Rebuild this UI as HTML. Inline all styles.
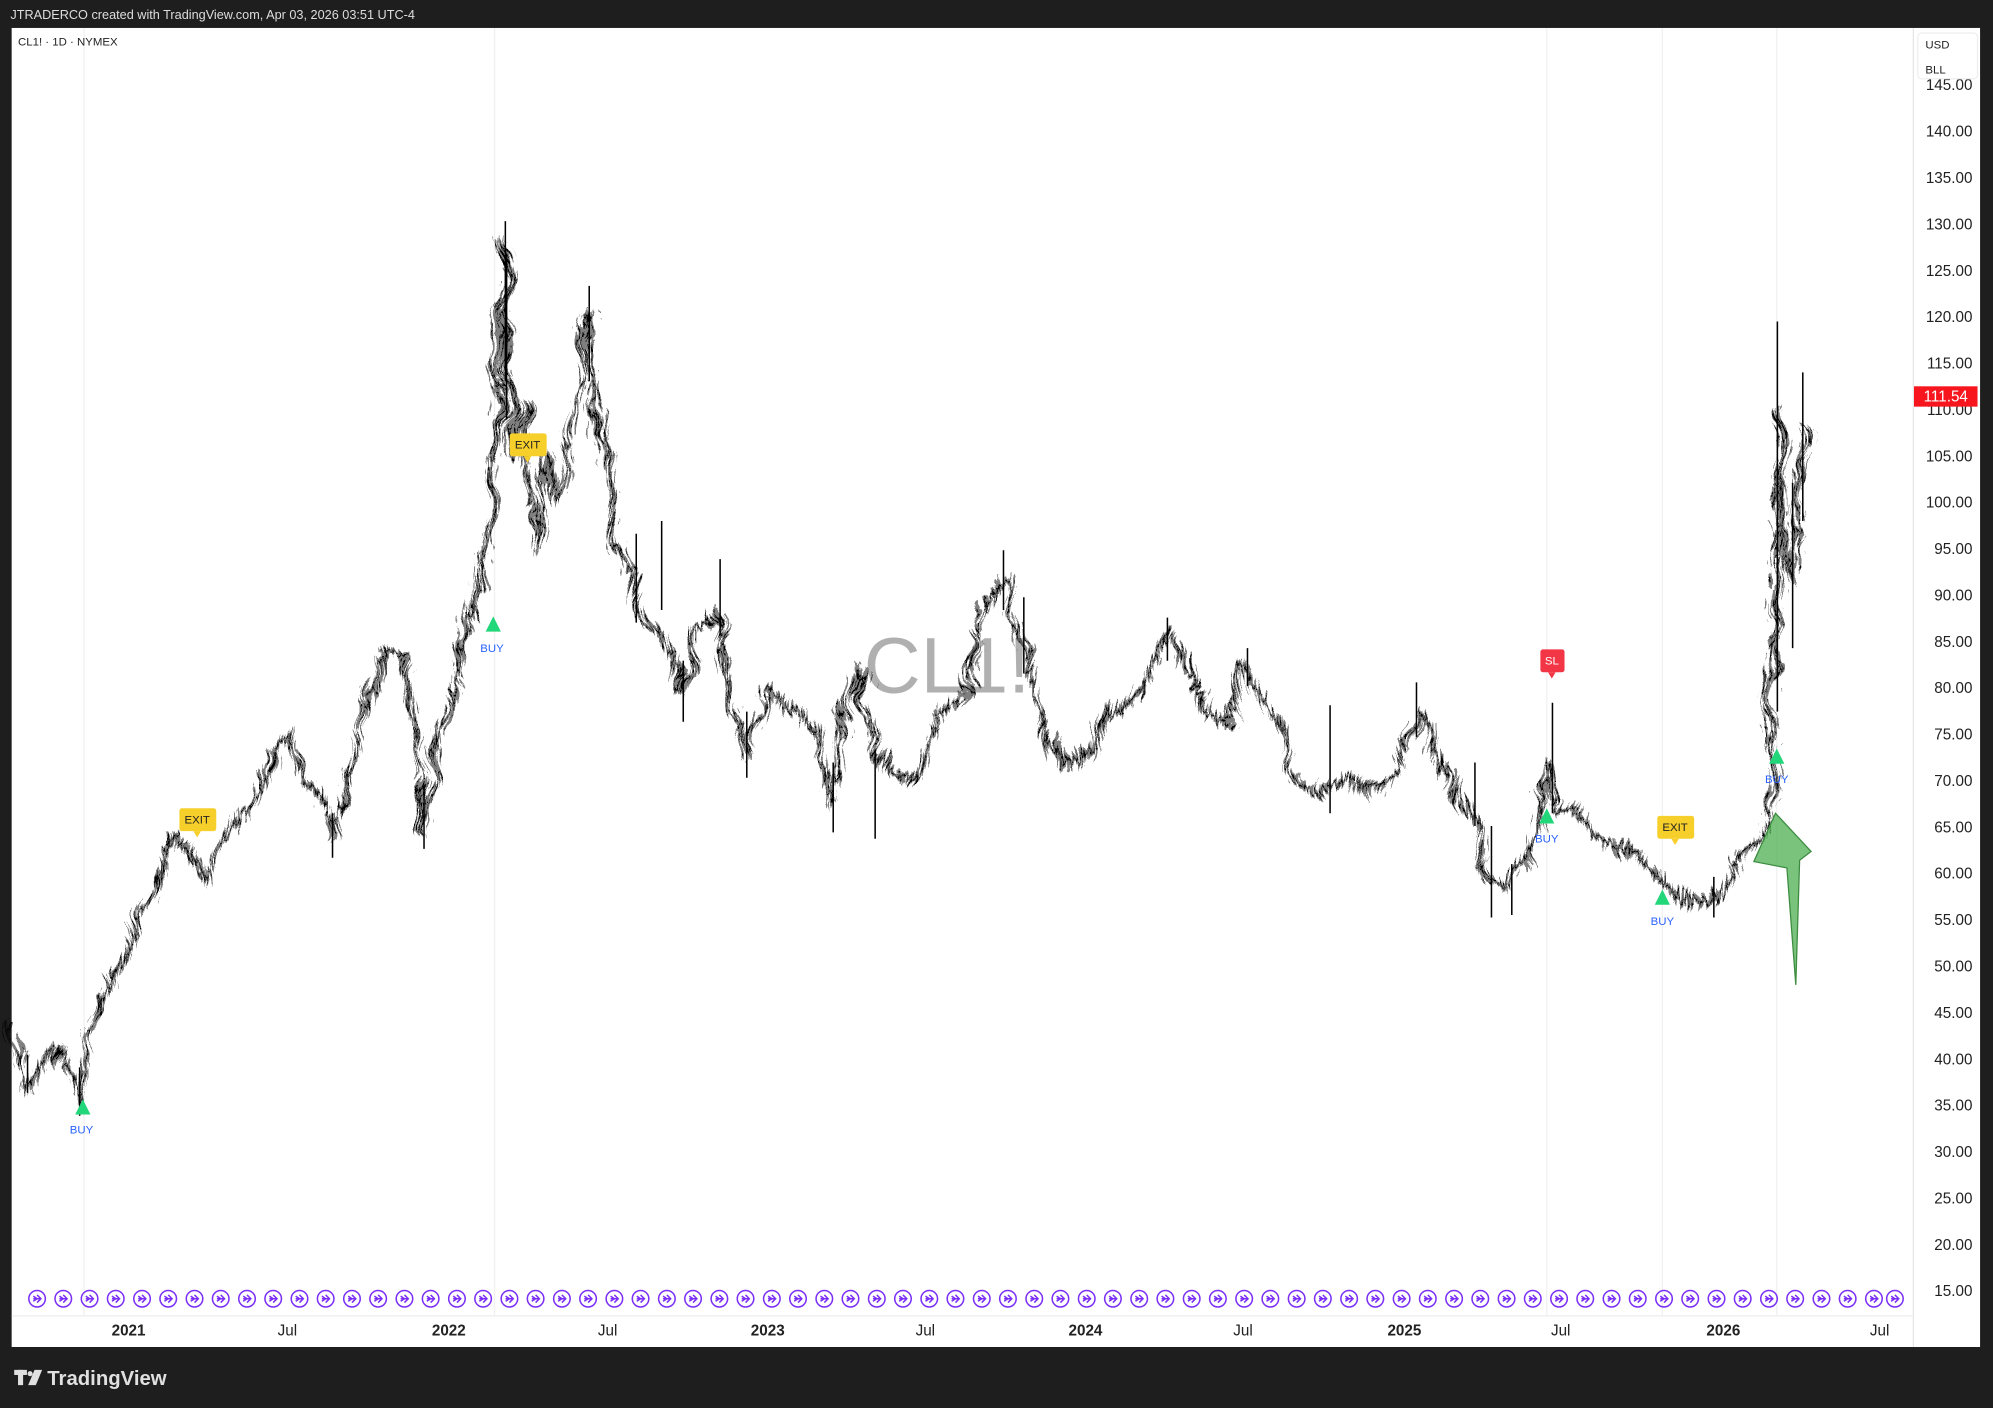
<!DOCTYPE html>
<html><head><meta charset="utf-8"><style>
html,body{margin:0;padding:0;background:#1e1e1e;}
svg{display:block}
text{font-family:"Liberation Sans",sans-serif}
</style></head><body>
<svg width="1993" height="1408" viewBox="0 0 1568 1108" xmlns="http://www.w3.org/2000/svg">
<defs>
<g id="ic"><circle cx="0" cy="0" r="6.5" fill="none" stroke="#7b2ff7" stroke-width="1.2"/><path d="M-3 -2 l3 2 l-3 2 M0 -3 l3 3 l-3 3 M-3 0 h6" fill="none" stroke="#7b2ff7" stroke-width="1.2"/></g>
<filter id="jit" x="-5%" y="-5%" width="110%" height="110%"><feTurbulence type="fractalNoise" baseFrequency="0.5 0.06" numOctaves="3" seed="3"/><feDisplacementMap in="SourceGraphic" scale="16" xChannelSelector="R" yChannelSelector="G"/></filter>
<filter id="jit2" x="-5%" y="-5%" width="110%" height="110%"><feTurbulence type="fractalNoise" baseFrequency="0.03 0.03" numOctaves="2" seed="7"/><feDisplacementMap in="SourceGraphic" scale="22" xChannelSelector="R" yChannelSelector="G"/></filter>
<polyline id="pl" points="9,804 22,855 40,826 55,848 62,870 70,819 80,782 100,746 120,702 135,658 150,666 160,695 175,666 200,629 215,593 228,578 240,615 250,629 262,658 275,615 290,556 305,512 318,520 325,571 333,651 345,585 360,527 375,469 385,439 392,323 398,191 402,359 410,323 420,432 430,359 440,396 455,308 463,250 470,337 480,396 495,454 510,490 525,512 537,542 550,498 565,483 578,556 590,593 605,542 620,556 640,571 655,636 665,556 675,527 688,600 700,600 715,615 725,600 740,563 760,542 775,469 790,454 800,498 810,527 825,578 840,607 855,593 870,563 890,549 905,534 920,498 935,527 950,556 965,571 980,520 995,549 1010,578 1025,615 1040,622 1060,615 1080,629 1100,607 1115,556 1130,593 1145,629 1160,651 1172,688 1185,702 1200,680 1210,658 1218,600 1225,644 1240,636 1255,658 1270,666 1290,673 1305,688 1320,702 1340,709 1355,702 1370,673 1385,658 1393,629 1398,469 1400,323 1404,432 1410,454 1415,396 1418,337"/>
</defs>
<rect width="1568" height="1108" fill="#1e1e1e"/>
<text x="8" y="15" font-size="10" fill="#dddddd">JTRADERCO created with TradingView.com, Apr 03, 2026 03:51 UTC-4</text>
<rect x="9" y="22" width="1549" height="1038" fill="#fff"/>
<line x1="1505.5" y1="22" x2="1505.5" y2="1060" stroke="#e6e6e6"/>
<line x1="9" y1="1035.5" x2="1505" y2="1035.5" stroke="#eee"/>
<g stroke="#f0f0f0" stroke-width="1">
<line x1="66" y1="22" x2="66" y2="1035"/><line x1="389" y1="22" x2="389" y2="1035"/>
<line x1="1217" y1="22" x2="1217" y2="1035"/><line x1="1308" y1="22" x2="1308" y2="1035"/><line x1="1398" y1="22" x2="1398" y2="1035"/>
</g>
<text x="14" y="36" font-size="9" fill="#222">CL1! · 1D · NYMEX</text>
<text x="745" y="545" font-size="62" fill="#b0b0b0" text-anchor="middle">CL1!</text>
<g font-size="12" fill="#222" text-anchor="end">
<text x="1552" y="1020">15.00</text><text x="1552" y="983.5">20.00</text><text x="1552" y="947">25.00</text><text x="1552" y="910.5">30.00</text><text x="1552" y="874">35.00</text><text x="1552" y="837.5">40.00</text><text x="1552" y="801">45.00</text><text x="1552" y="764.5">50.00</text><text x="1552" y="728">55.00</text><text x="1552" y="691.5">60.00</text><text x="1552" y="655">65.00</text><text x="1552" y="618.5">70.00</text><text x="1552" y="582">75.00</text><text x="1552" y="545.5">80.00</text><text x="1552" y="509">85.00</text><text x="1552" y="472.5">90.00</text><text x="1552" y="436">95.00</text><text x="1552" y="399.5">100.00</text><text x="1552" y="363">105.00</text><text x="1552" y="326.5">110.00</text><text x="1552" y="290">115.00</text><text x="1552" y="253.5">120.00</text><text x="1552" y="217">125.00</text><text x="1552" y="180.5">130.00</text><text x="1552" y="144">135.00</text><text x="1552" y="107.5">140.00</text><text x="1552" y="71">145.00</text>
</g>
<rect x="1509" y="26" width="47" height="36" rx="3" fill="#fff" stroke="#eee"/>
<text x="1515" y="38" font-size="9" fill="#222">USD</text>
<text x="1515" y="58" font-size="9" fill="#222">BLL</text>
<g fill="none" stroke="#000" stroke-linejoin="round">
<g filter="url(#jit2)">
<use href="#pl" filter="url(#jit)" stroke-width="6" stroke-opacity="0.5"/>
<use href="#pl" filter="url(#jit)" stroke-width="1.3"/>
</g>
<path stroke-width="1.2" d="M397.5 174V300 M398.5 200V330 M463.5 225V300 M1398.5 253V560 M1418.5 293V410 M1221.5 553V640 M789.5 433V480 M655.5 600V655 M688.5 590V660 M333.5 620V668 M261.5 640V675 M1173.5 650V722 M1189.5 680V720 M1348.5 690V722 M62.5 840V878 M21.5 830V860 M1114.5 537V580 M918.5 486V520 M981.5 510V540 M1410.5 380V510 M537.5 520V568 M566.5 440V500 M587.5 560V612 M500.5 420V490 M520.5 410V480 M805.5 470V530 M1046.5 555V640 M1160.5 600V650"/>
</g>
<polygon points="1413,775 1406,683 1380,678 1397,640 1425,670 1416,677" fill="#4caf50" fill-opacity="0.75" stroke="#3d8c40" stroke-width="1"/>
<g fill="#22d67a">
<polygon points="65,865 59,877 71,877"/><polygon points="388,485 382,497 394,497"/>
<polygon points="1217,636 1211,648 1223,648"/><polygon points="1308,700 1302,712 1314,712"/>
<polygon points="1398,589 1392,601 1404,601"/>
</g>
<g font-size="9" fill="#2962ff" text-anchor="middle">
<text x="64" y="892">BUY</text><text x="387" y="513">BUY</text><text x="1217" y="663">BUY</text>
<text x="1308" y="728">BUY</text><text x="1398" y="616">BUY</text>
</g>
<g fill="#f7cf2a">
<rect x="141" y="636" width="29" height="18" rx="2"/><polygon points="152,654 158,654 155,659"/>
<rect x="401" y="341" width="29" height="18" rx="2"/><polygon points="412,359 418,359 415,364"/>
<rect x="1304" y="642" width="29" height="18" rx="2"/><polygon points="1315,660 1321,660 1318,665"/>
</g>
<g font-size="9" fill="#222" text-anchor="middle">
<text x="155" y="648">EXIT</text><text x="415" y="353">EXIT</text><text x="1318" y="654">EXIT</text>
</g>
<rect x="1212" y="511" width="19" height="18" rx="2" fill="#f23645"/><polygon points="1218,529 1224,529 1221,534" fill="#f23645"/>
<text x="1221" y="523" font-size="9" fill="#fff" text-anchor="middle">SL</text>
<rect x="1506" y="304" width="50" height="16" fill="#f7161d"/>
<text x="1531" y="316" font-size="12" fill="#fff" text-anchor="middle">111.54</text>
<g>
<use href="#ic" x="29" y="1022"/><use href="#ic" x="49.6" y="1022"/><use href="#ic" x="70.3" y="1022"/><use href="#ic" x="90.9" y="1022"/><use href="#ic" x="111.6" y="1022"/><use href="#ic" x="132.2" y="1022"/><use href="#ic" x="152.9" y="1022"/><use href="#ic" x="173.5" y="1022"/><use href="#ic" x="194.2" y="1022"/><use href="#ic" x="214.8" y="1022"/><use href="#ic" x="235.5" y="1022"/><use href="#ic" x="256.1" y="1022"/><use href="#ic" x="276.8" y="1022"/><use href="#ic" x="297.4" y="1022"/><use href="#ic" x="318.1" y="1022"/><use href="#ic" x="338.7" y="1022"/><use href="#ic" x="359.4" y="1022"/><use href="#ic" x="380" y="1022"/><use href="#ic" x="400.7" y="1022"/><use href="#ic" x="421.3" y="1022"/><use href="#ic" x="442" y="1022"/><use href="#ic" x="462.6" y="1022"/><use href="#ic" x="483.3" y="1022"/><use href="#ic" x="503.9" y="1022"/><use href="#ic" x="524.6" y="1022"/><use href="#ic" x="545.2" y="1022"/><use href="#ic" x="565.9" y="1022"/><use href="#ic" x="586.5" y="1022"/><use href="#ic" x="607.2" y="1022"/><use href="#ic" x="627.8" y="1022"/><use href="#ic" x="648.5" y="1022"/><use href="#ic" x="669.1" y="1022"/><use href="#ic" x="689.8" y="1022"/><use href="#ic" x="710.4" y="1022"/><use href="#ic" x="731.1" y="1022"/><use href="#ic" x="751.7" y="1022"/><use href="#ic" x="772.4" y="1022"/><use href="#ic" x="793" y="1022"/><use href="#ic" x="813.7" y="1022"/><use href="#ic" x="834.3" y="1022"/><use href="#ic" x="855" y="1022"/><use href="#ic" x="875.6" y="1022"/><use href="#ic" x="896.3" y="1022"/><use href="#ic" x="916.9" y="1022"/><use href="#ic" x="937.6" y="1022"/><use href="#ic" x="958.2" y="1022"/><use href="#ic" x="978.9" y="1022"/><use href="#ic" x="999.5" y="1022"/><use href="#ic" x="1020.2" y="1022"/><use href="#ic" x="1040.8" y="1022"/><use href="#ic" x="1061.5" y="1022"/><use href="#ic" x="1082.1" y="1022"/><use href="#ic" x="1102.8" y="1022"/><use href="#ic" x="1123.4" y="1022"/><use href="#ic" x="1144.1" y="1022"/><use href="#ic" x="1164.7" y="1022"/><use href="#ic" x="1185.4" y="1022"/><use href="#ic" x="1206" y="1022"/><use href="#ic" x="1226.7" y="1022"/><use href="#ic" x="1247.3" y="1022"/><use href="#ic" x="1268" y="1022"/><use href="#ic" x="1288.6" y="1022"/><use href="#ic" x="1309.3" y="1022"/><use href="#ic" x="1329.9" y="1022"/><use href="#ic" x="1350.6" y="1022"/><use href="#ic" x="1371.2" y="1022"/><use href="#ic" x="1391.9" y="1022"/><use href="#ic" x="1412.5" y="1022"/><use href="#ic" x="1433.2" y="1022"/><use href="#ic" x="1453.8" y="1022"/><use href="#ic" x="1474.5" y="1022"/><use href="#ic" x="1491" y="1022"/>
</g>
<g font-size="12" fill="#222" text-anchor="middle">
<text x="101" y="1051" font-weight="bold">2021</text><text x="226" y="1051">Jul</text>
<text x="353" y="1051" font-weight="bold">2022</text><text x="478" y="1051">Jul</text>
<text x="604" y="1051" font-weight="bold">2023</text><text x="728" y="1051">Jul</text>
<text x="854" y="1051" font-weight="bold">2024</text><text x="978" y="1051">Jul</text>
<text x="1105" y="1051" font-weight="bold">2025</text><text x="1228" y="1051">Jul</text>
<text x="1356" y="1051" font-weight="bold">2026</text><text x="1479" y="1051">Jul</text>
</g>
<g fill="#e0e0e0"><rect x="11" y="1078" width="10" height="4"/><rect x="14" y="1078" width="4" height="12"/><circle cx="23.5" cy="1081" r="2"/><polygon points="27,1078 33,1078 28,1090 22,1090"/></g>
<text x="37" y="1090" font-size="16" font-weight="bold" fill="#e0e0e0">TradingView</text>
</svg>
</body></html>
